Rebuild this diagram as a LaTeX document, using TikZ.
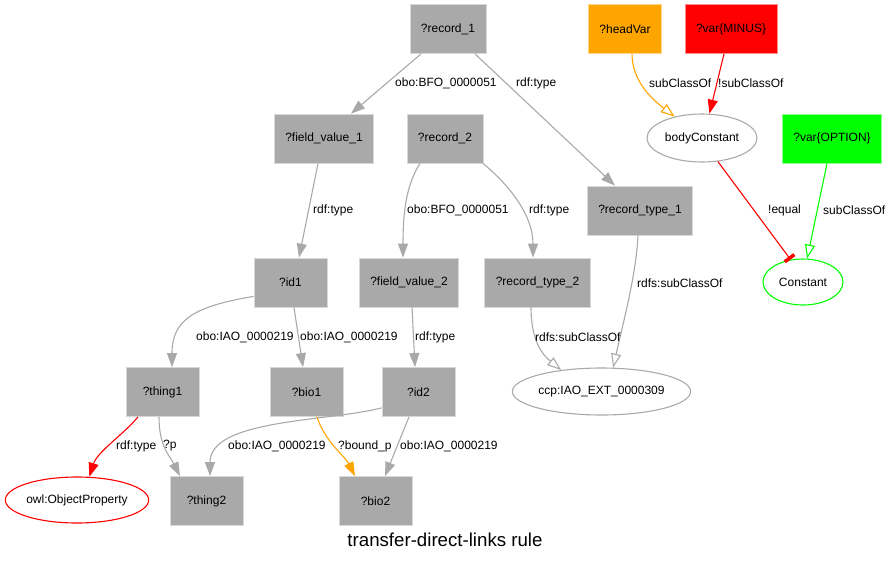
\documentclass[tikz,border=0pt]{standalone}
\usepackage{fontspec}
\setmainfont{Liberation Sans}
\usetikzlibrary{arrows.meta,shapes.geometric}
\definecolor{boxgray}{HTML}{A9A9A9}
\definecolor{linegray}{HTML}{A9A9A9}
\definecolor{vorange}{HTML}{FFA500}
\definecolor{vred}{HTML}{FF0000}
\definecolor{vgreen}{HTML}{00FF00}

\begin{document}
\begin{tikzpicture}[x=1pt,y=-1pt,
  font=\fontsize{12}{14}\selectfont,
  var/.style={rectangle, fill=#1, draw=#1!45!white, line width=0.8pt,
    minimum width=73pt, minimum height=49pt, inner xsep=11pt},
  var/.default=boxgray,
  term/.style={ellipse, draw=#1, line width=1.1pt, inner sep=0pt},
  lbl/.style={anchor=west, inner sep=0pt},
  link/.style={line width=1.1pt, draw=#1},
  link/.default=linegray,
  tip/.style={-{Triangle[length=14pt,width=10pt]}},
  hollow/.style={-{Triangle[open,length=14pt,width=10pt]}},
  tee/.style={-{Rectangle[length=3.5pt,width=12pt]}},
]
\useasboundingbox (0,0) rectangle (890,563);

% variables and terms
\node[var] (rec1) at (448,29) {?record\_1};
\node[var=vorange] (head) at (625,29) {?headVar};
\node[var=vred] (minus) at (731,29) {?var\{MINUS\}};
\node[var] (fv1) at (324,138.5) {?field\_value\_1};
\node[var] (rec2) at (445,138.5) {?record\_2};
\node[term=linegray, minimum width=110pt, minimum height=48pt] (bc) at (702,138) {bodyConstant};
\node[var=vgreen] (opt) at (832,138.5) {?var\{OPTION\}};
\node[var] (rt1) at (640,210.5) {?record\_type\_1};
\node[var] (id1) at (290.5,282.5) {?id1};
\node[var] (fv2) at (409,282.5) {?field\_value\_2};
\node[var] (rt2) at (537.5,282.5) {?record\_type\_2};
\node[term=vgreen, minimum width=80pt, minimum height=46pt] (const) at (803,282) {Constant};
\node[var] (thing1) at (162.5,392) {?thing1};
\node[var] (bio1) at (306.5,392) {?bio1};
\node[var] (id2) at (418.5,392) {?id2};
\node[term=linegray, minimum width=172pt, minimum height=47pt] (ccp) at (601.5,391.5) {ccp:IAO\_EXT\_0000309};
\node[term=vred, minimum width=140pt, minimum height=46pt] (owl) at (77,500) {owl:ObjectProperty};
\node[var] (thing2) at (206.5,501) {?thing2};
\node[var] (bio2) at (375.5,501) {?bio2};
\node (title) at (445,540) {\fontsize{18.67}{22}\selectfont transfer-direct-links rule};

% connectors
\draw[link, tip] ([xshift=-27pt]rec1.south) -- ([xshift=27pt]fv1.north);
\draw[link, tip] ([xshift=27pt]rec1.south) -- ([xshift=-25pt]rt1.north);
\draw[link=vorange, hollow] ([xshift=7pt]head.south) .. controls +(0,30) and +(-18,-14) .. (bc.142);
\draw[link=vred, tip] ([xshift=-7pt]minus.south) -- (bc.73);
\draw[link=vred, tee] (bc.-56) -- (const.119);
\draw[link=vgreen, hollow] ([xshift=-5pt]opt.south) -- (const.80);
\draw[link, tip] ([xshift=-6pt]fv1.south) -- ([xshift=8.5pt]id1.north);
\draw[link, tip] ([xshift=-25pt]rec2.south) .. controls +(-14,22) and +(0,-45) .. ([xshift=-6pt]fv2.north);
\draw[link, tip] ([xshift=38pt]rec2.south) .. controls +(22,18) and +(0,-45) .. ([xshift=-4.5pt]rt2.north);
\draw[link, hollow] ([xshift=-2pt]rt1.south) .. controls +(-2,40) and +(10,-45) .. (ccp.64);
\draw[link, hollow] ([xshift=-6.5pt]rt2.south) .. controls +(0,28) and +(-22,-18) .. (ccp.152);
\draw[link, tip] ([yshift=11pt]id1.south west) .. controls +(-60,10) and +(0,-47) .. ([xshift=9.5pt]thing1.north);
\draw[link, tip] ([xshift=3.5pt]id1.south) -- ([xshift=-3.5pt]bio1.north);
\draw[link, tip] ([xshift=3pt]fv2.south) -- ([xshift=-3.5pt]id2.north);
\draw[link=vred, tip] ([xshift=-24.5pt]thing1.south) .. controls +(-15,18) and +(8,-25) .. (owl.62);
\draw[link, tip] ([xshift=-3.5pt]thing1.south) .. controls +(0,30) and +(-10,-20) .. ([xshift=-26.5pt]thing2.north);
\draw[link, tip] ([yshift=9pt]id2.south west) .. controls +(-55,14) and +(0,-57) .. ([xshift=3.5pt]thing2.north);
\draw[link=vorange, tip] ([xshift=10.5pt]bio1.south) .. controls +(8,25) and +(-10,-20) .. ([xshift=-20.5pt]bio2.north);
\draw[link, tip] ([xshift=-9.5pt]id2.south) -- ([xshift=9.5pt]bio2.north);

% connector labels
\node[lbl] (l1) at (395,83) {obo:BFO\_0000051};
\node[lbl] (l2) at (516,83) {rdf:type};
\node[lbl] (l3) at (649,83) {subClassOf};
\node[lbl] (l4) at (718,83) {!subClassOf};
\node[lbl] (l5) at (313,210) {rdf:type};
\node[lbl] (l6) at (407,210) {obo:BFO\_0000051};
\node[lbl] (l7) at (529,210) {rdf:type};
\node[lbl] (l8) at (768,210) {!equal};
\node[lbl] (l9) at (823,210) {subClassOf};
\node[lbl] (l10) at (637,283) {rdfs:subClassOf};
\node[lbl] (l11) at (535,337) {rdfs:subClassOf};
\node[lbl] (l12) at (196,337) {obo:IAO\_0000219};
\node[lbl] (l13) at (300,337) {obo:IAO\_0000219};
\node[lbl] (l14) at (415,337) {rdf:type};
\node[lbl] (l15) at (116,446) {rdf:type};
\node[lbl] (l16) at (163,446) {?p};
\node[lbl] (l17) at (228,446) {obo:IAO\_0000219};
\node[lbl] (l18) at (338,446) {?bound\_p};
\node[lbl] (l19) at (400,446) {obo:IAO\_0000219};
\end{tikzpicture}
\end{document}
